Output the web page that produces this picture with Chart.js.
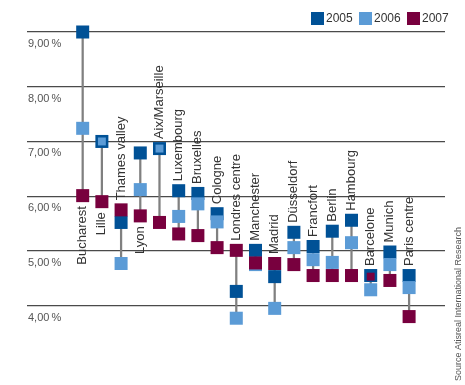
<!DOCTYPE html>
<html>
<head>
<meta charset="utf-8">
<script src="https://cdn.jsdelivr.net/npm/chart.js@4/dist/chart.umd.min.js"></script>
<style>
  html, body { margin: 0; padding: 0; background: #fff; }
  #wrap { width: 465px; height: 385px; }
</style>
</head>
<body>
<div id="wrap"><canvas id="c" width="465" height="385"></canvas></div>
<script>
const categories = ['Bucharest', 'Lille', 'Thames valley', 'Lyon', 'Aix/Marseille', 'Luxembourg',
  'Bruxelles', 'Cologne', 'Londres centre', 'Manchester', 'Madrid', 'Düsseldorf',
  'Francfort', 'Berlin', 'Hambourg', 'Barcelone', 'Munich', 'Paris centre'];
const seriesNames = ['2005', '2006', '2007'];
const y2005 = [9.00, 7.00, 5.52, 6.79, 6.87, 6.10, 6.05, 5.68, 4.26, 5.01, 4.53, 5.34, 5.08, 5.36, 5.56, 4.55, 4.98, 4.55];
const y2006 = [7.24, 7.00, 4.77, 6.12, 6.87, 5.63, 5.86, 5.53, 3.77, 4.75, 3.95, 5.06, 4.84, 4.79, 5.15, 4.29, 4.75, 4.33];
const y2007 = [6.01, 5.90, 5.75, 5.64, 5.52, 5.31, 5.28, 5.06, 5.01, 4.78, 4.77, 4.75, 4.55, 4.55, 4.55, 4.53, 4.46, 3.80];
const yTicks = [4, 5, 6, 7, 8, 9];
const labelsBelow = ['Bucharest', 'Lille', 'Lyon'];
const sourceText = 'Source Atisreal International Research';

const colors = ['#005196', '#5b9bd6', '#78003e'];
const BIG = 9.2;   // rect side = radius * sqrt2 ≈ 13px
const SMALL = 5.6;

const pts = arr => arr.map((v, i) => ({ x: i, y: v }));
const ranges = categories.map((c, i) => {
  const vals = [y2005[i], y2006[i], y2007[i]];
  return { x: i, y: [Math.min(...vals), Math.max(...vals)] };
});

const overlayPlugin = {
  id: 'overlay',
  afterDatasetsDraw(chart) {
    const ctx = chart.ctx;
    const xs = chart.scales.x, ys = chart.scales.y;
    ctx.save();
    // category labels
    ctx.font = '13px "Liberation Sans", Arial, sans-serif';
    ctx.fillStyle = '#333';
    ctx.textBaseline = 'middle';
    categories.forEach((c, i) => {
      const r = ranges[i].y;
      const x = xs.getPixelForValue(i);
      ctx.save();
      ctx.translate(x, 0);
      ctx.rotate(-Math.PI / 2);
      if (labelsBelow.includes(c)) {
        const yb = ys.getPixelForValue(r[0]) + 6.5 + 4;
        ctx.textAlign = 'right';
        ctx.fillText(c, -yb, 0);
      } else {
        const yt = ys.getPixelForValue(r[1]) - 6.5 - 3;
        ctx.textAlign = 'left';
        ctx.fillText(c, -yt, 0);
      }
      ctx.restore();
    });
    // legend
    ctx.font = '12px "Liberation Sans", Arial, sans-serif';
    ctx.textAlign = 'left';
    ctx.textBaseline = 'middle';
    let lx = 311;
    chart.data.datasets.forEach(ds => {
      if (!ds.inLegend) return;
      ctx.fillStyle = ds.backgroundColor;
      ctx.fillRect(lx, 12, 13, 13);
      ctx.fillStyle = '#333';
      ctx.fillText(ds.label, lx + 15, 19);
      lx += 48;
    });
    // source
    ctx.font = '9px "Liberation Sans", Arial, sans-serif';
    ctx.fillStyle = '#555';
    ctx.save();
    ctx.translate(459, 227);
    ctx.rotate(-Math.PI / 2);
    ctx.textAlign = 'right';
    ctx.fillText(sourceText, 0, 0);
    ctx.restore();
    ctx.restore();
  }
};

const ptDs = (k, data, radii) => ({
  type: 'scatter',
  label: seriesNames[k],
  inLegend: true,
  data: pts(data),
  backgroundColor: colors[k],
  borderColor: colors[k],
  borderWidth: 0,
  pointStyle: 'rect',
  pointRadius: radii,
  pointHoverRadius: radii,
  showLine: false,
  clip: false,
  order: 3 - k
});

new Chart(document.getElementById('c'), {
  type: 'scatter',
  data: {
    datasets: [
      {
        type: 'bar',
        label: 'range',
        data: ranges,
        backgroundColor: '#808080',
        barThickness: 1.6,
        order: 10,
        clip: false
      },
      ptDs(0, y2005, BIG),
      ptDs(1, y2006, categories.map(c => (c === 'Lille' || c === 'Aix/Marseille') ? SMALL : BIG)),
      ptDs(2, y2007, categories.map(c => c === 'Barcelone' ? SMALL : BIG))
    ]
  },
  options: {
    responsive: false,
    animation: false,
    layout: { padding: { top: 32, left: 25, right: 20, bottom: 52 } },
    plugins: { legend: { display: false }, tooltip: { enabled: false } },
    scales: {
      x: {
        type: 'linear',
        display: false,
        min: -2.9,
        max: 18.87,
        offset: false
      },
      y: {
        type: 'linear',
        min: 3.5,
        max: 9,
        afterBuildTicks: s => { s.ticks = yTicks.map(v => ({ value: v })); },
        border: { display: false },
        grid: { color: '#4a4a4a', lineWidth: 1.2, drawTicks: false },
        ticks: {
          mirror: true,
          padding: 1,
          labelOffset: 12,
          color: '#555',
          font: { family: '"Liberation Sans", Arial, sans-serif', size: 11 },
          callback: v => v.toFixed(2).replace('.', ',') + '\u2009%'
        }
      }
    }
  },
  plugins: [overlayPlugin]
});
</script>
</body>
</html>
